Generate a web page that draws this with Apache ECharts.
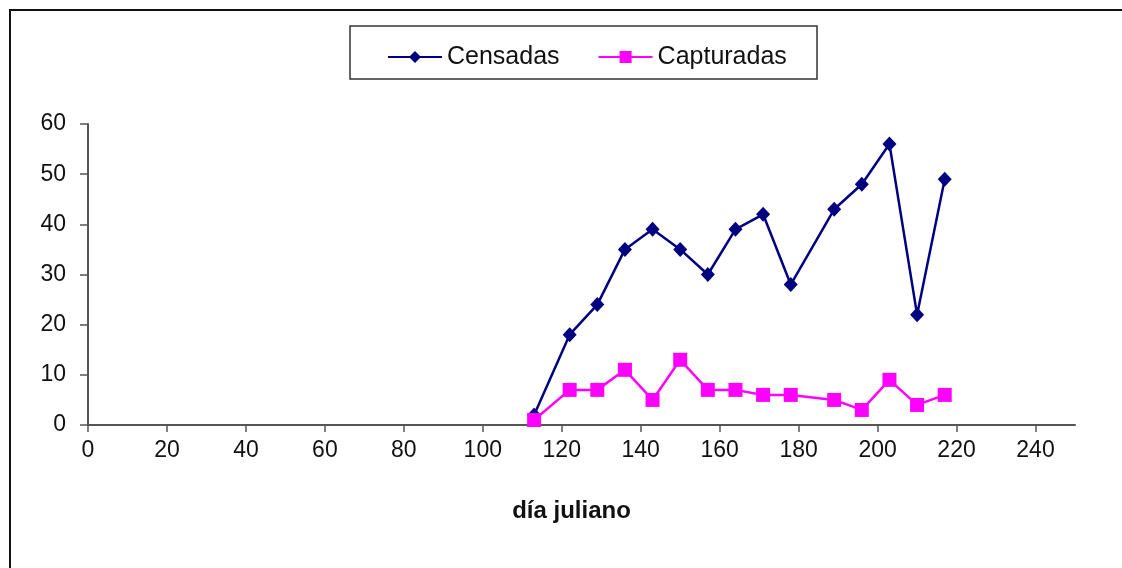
<!DOCTYPE html>
<html>
<head>
<meta charset="utf-8">
<script src="https://cdn.jsdelivr.net/npm/echarts@6/dist/echarts.min.js"></script>
<style>
html,body{margin:0;padding:0;background:#fff;}
#chart{width:1122px;height:568px;}
</style>
</head>
<body>
<div id="chart"></div>
<script>
// ---- data ----
var diaJuliano = [113, 122, 129, 136, 143, 150, 157, 164, 171, 178, 189, 196, 203, 210, 217];
var censadas   = [2, 18, 24, 35, 39, 35, 30, 39, 42, 28, 43, 48, 56, 22, 49];
var capturadas = [1, 7, 7, 11, 5, 13, 7, 7, 6, 6, 5, 3, 9, 4, 6];
var xTickLabels = [0, 20, 40, 60, 80, 100, 120, 140, 160, 180, 200, 220, 240];
var yTickLabels = [0, 10, 20, 30, 40, 50, 60];
var seriesNames = ['Censadas', 'Capturadas'];
var xAxisTitle = 'día juliano';

function pairs(xs, ys) { return xs.map(function (x, i) { return [x, ys[i]]; }); }

var FONT = '"Liberation Sans", Arial, sans-serif';
var chart = echarts.init(document.getElementById('chart'), null, { renderer: 'canvas' });
chart.setOption({
  backgroundColor: '#ffffff',
  animation: false,
  textStyle: { fontFamily: FONT },
  graphic: [
    { type: 'rect', silent: true, z: 0,
      shape: { x: 10, y: 10, width: 1300, height: 800 },
      style: { fill: 'none', stroke: '#111', lineWidth: 2 } },
    { type: 'rect', silent: true, z: 0,
      shape: { x: 350, y: 26, width: 467, height: 53 },
      style: { fill: '#fff', stroke: '#333', lineWidth: 1.5 } }
  ],
  legend: {
    left: 382, top: 39,
    itemWidth: 54, itemHeight: 15, itemGap: 38,
    textStyle: { fontFamily: FONT, fontSize: 25, color: '#111', lineHeight: 26 },
    data: seriesNames
  },
  grid: { left: 88, right: 47, top: 124, bottom: 143, containLabel: false },
  xAxis: {
    type: 'value', min: 0, max: 250, interval: 10,
    name: xAxisTitle, nameLocation: 'middle', nameGap: 74,
    nameTextStyle: { fontFamily: FONT, fontSize: 24, fontWeight: 'bold', color: '#111', padding: [0, 20, 0, 0] },
    axisLine: { show: true, onZero: false, lineStyle: { color: '#555', width: 2 } },
    axisTick: { show: true, inside: false, length: 7, lineStyle: { color: '#555', width: 1.5 }, customValues: xTickLabels },
    axisLabel: { show: true, margin: 14, fontSize: 23, color: '#111', fontFamily: FONT, customValues: xTickLabels },
    splitLine: { show: false }
  },
  yAxis: {
    type: 'value', min: 0, max: 60, interval: 10,
    axisLine: { show: true, onZero: false, lineStyle: { color: '#555', width: 2 } },
    axisTick: { show: true, inside: false, length: 8, lineStyle: { color: '#555', width: 1.5 }, customValues: yTickLabels },
    axisLabel: { show: true, margin: 22, fontSize: 23, color: '#111', fontFamily: FONT, customValues: yTickLabels },
    splitLine: { show: false }
  },
  series: [
    { name: seriesNames[0], type: 'line', data: pairs(diaJuliano, censadas),
      symbol: 'diamond', symbolSize: [14, 15], z: 3,
      itemStyle: { color: '#000080' },
      lineStyle: { color: '#000080', width: 2.5 } },
    { name: seriesNames[1], type: 'line', data: pairs(diaJuliano, capturadas),
      symbol: 'rect', symbolSize: 14, z: 4,
      itemStyle: { color: '#ff00ff' },
      lineStyle: { color: '#ff00ff', width: 2.5 } }
  ]
});
</script>
</body>
</html>
